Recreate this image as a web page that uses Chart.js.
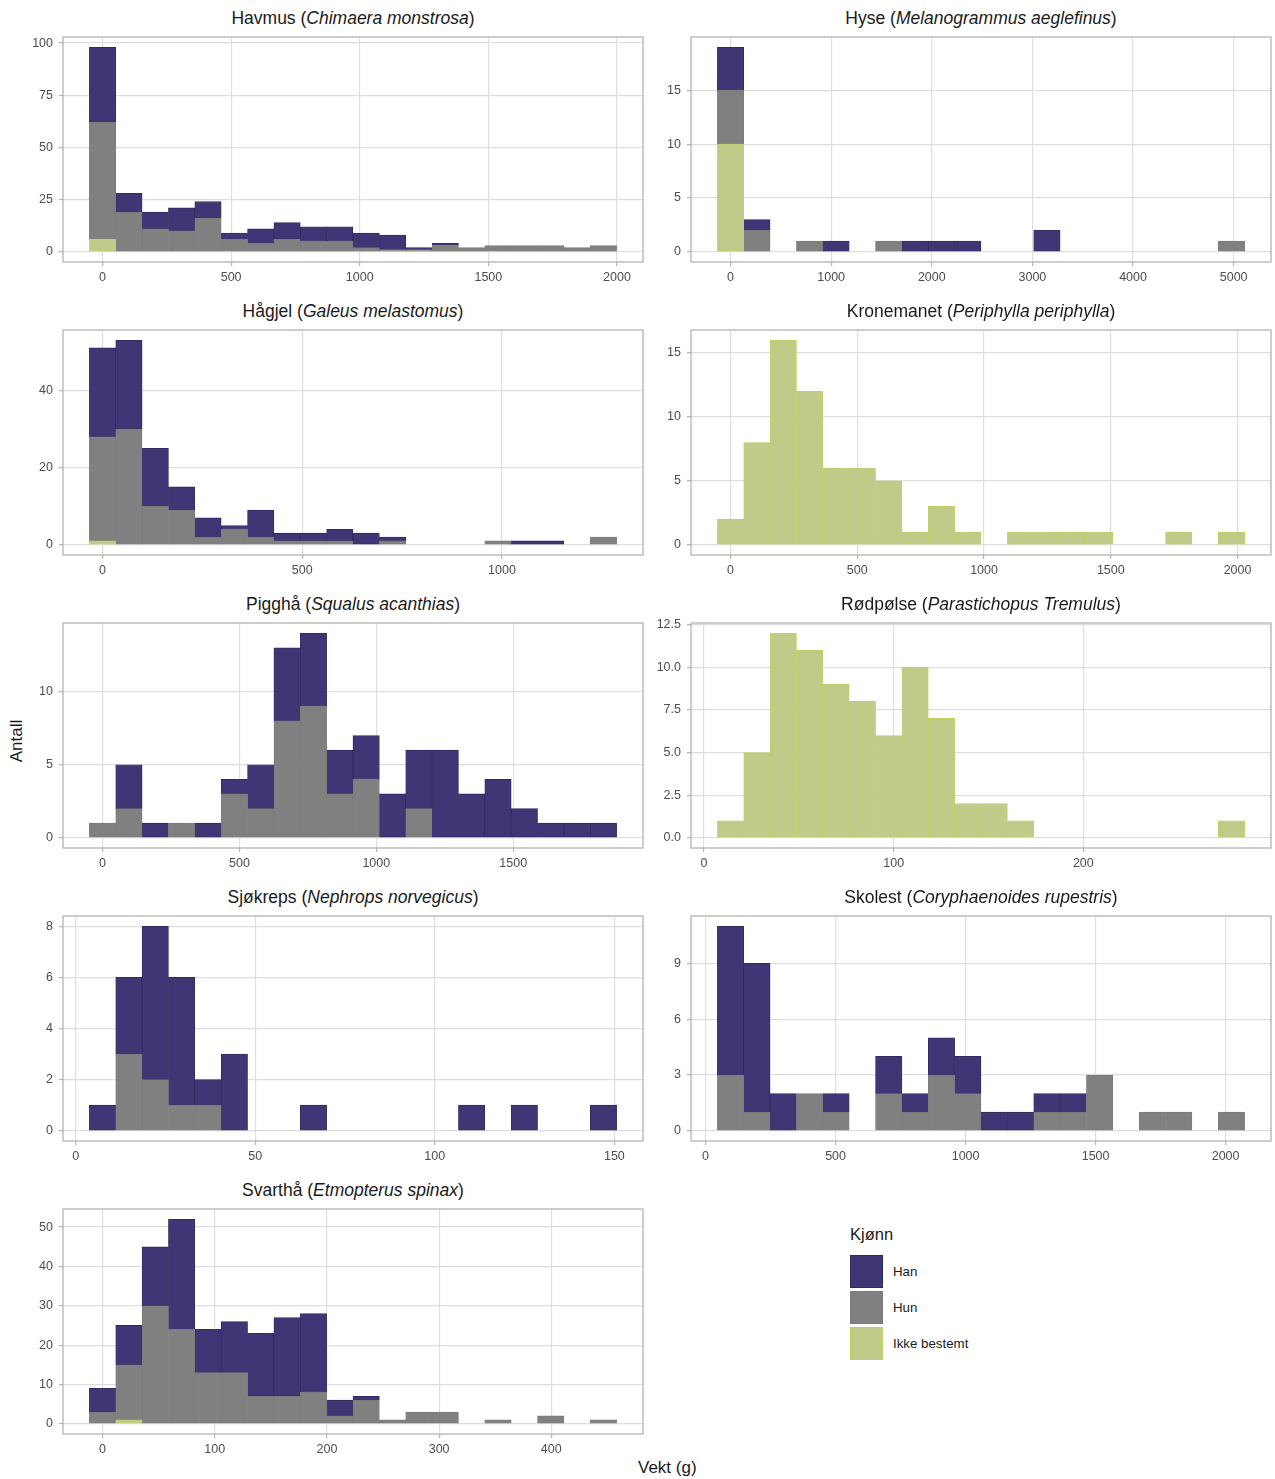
<!DOCTYPE html>
<html>
<head>
<meta charset="utf-8">
<script src="https://cdn.jsdelivr.net/npm/chart.js@4.4.0/dist/chart.umd.min.js"></script>
<style>
  body { margin: 0; background: #fff; font-family: "Liberation Sans", Arial, sans-serif; }
  #wrap { position: relative; width: 1275px; height: 1479px; }
  .title { position: absolute; width: 580px; text-align: center; font-size: 17.5px; line-height: 20px; color: #1a1a1a; }
  .panel { position: absolute; }
  .axis-title { position: absolute; font-size: 17px; color: #1a1a1a; }
  #legend { position: absolute; left: 850px; top: 1225px; }
  #legend .head { font-size: 16.5px; color: #1a1a1a; margin-bottom: 9px; }
  #legend .row { display: flex; align-items: center; height: 36px; }
  #legend .key { width: 31px; height: 31px; border: 1px solid; margin-right: 10px; }
  #legend .lab { font-size: 13.3px; color: #1a1a1a; }
</style>
</head>
<body>
<div id="wrap">
  <div class="axis-title" style="left:-4px;top:731px;transform:rotate(-90deg);">Antall</div>
  <div class="axis-title" style="left:638px;top:1458px;">Vekt (g)</div>
  <div id="legend"></div>
</div>
<script>
// Kjønn categories
const sexLabels = ['Han', 'Hun', 'Ikke bestemt'];
const sexFill = ['#3e3675', '#808080', '#c1cb89'];
const sexLine = ['#302a5c', '#7b7b7b', '#c3cf5a'];

// panels, in facet order
const panelNames = ['Havmus', 'Hyse', 'Hågjel', 'Kronemanet', 'Pigghå', 'Rødpølse', 'Sjøkreps', 'Skolest', 'Svarthå'];
const panelLatin = ['Chimaera monstrosa', 'Melanogrammus aeglefinus', 'Galeus melastomus', 'Periphylla periphylla',
  'Squalus acanthias', 'Parastichopus Tremulus', 'Nephrops norvegicus', 'Coryphaenoides rupestris', 'Etmopterus spinax'];

// histogram bins (20 per panel): centre of first bin and bin width, in g
const binStart = [0, 0, 0, 0, 0, 14, 7.5, 96, 0];
const binWidth = [102.5, 262, 66, 104, 96.3, 13.9, 7.34, 101.4, 23.5];

// tick labels
const xTicks = [
  ['0', '500', '1000', '1500', '2000'],
  ['0', '1000', '2000', '3000', '4000', '5000'],
  ['0', '500', '1000'],
  ['0', '500', '1000', '1500', '2000'],
  ['0', '500', '1000', '1500'],
  ['0', '100', '200'],
  ['0', '50', '100', '150'],
  ['0', '500', '1000', '1500', '2000'],
  ['0', '100', '200', '300', '400']
];
const yTicks = [
  ['0', '25', '50', '75', '100'],
  ['0', '5', '10', '15'],
  ['0', '20', '40'],
  ['0', '5', '10', '15'],
  ['0', '5', '10'],
  ['0.0', '2.5', '5.0', '7.5', '10.0', '12.5'],
  ['0', '2', '4', '6', '8'],
  ['0', '3', '6', '9'],
  ['0', '10', '20', '30', '40', '50']
];

// counts per bin
const havmusHan  = [36, 9, 8, 11, 8, 3, 7, 8, 7, 7, 7, 7, 1, 1, 0, 0, 0, 0, 0, 0];
const havmusHun  = [56, 19, 11, 10, 16, 6, 4, 6, 5, 5, 2, 1, 1, 3, 2, 3, 3, 3, 2, 3];
const havmusIkke = [6, 0, 0, 0, 0, 0, 0, 0, 0, 0, 0, 0, 0, 0, 0, 0, 0, 0, 0, 0];

const hyseHan  = [4, 1, 0, 0, 1, 0, 0, 1, 1, 1, 0, 0, 2, 0, 0, 0, 0, 0, 0, 0];
const hyseHun  = [5, 2, 0, 1, 0, 0, 1, 0, 0, 0, 0, 0, 0, 0, 0, 0, 0, 0, 0, 1];
const hyseIkke = [10, 0, 0, 0, 0, 0, 0, 0, 0, 0, 0, 0, 0, 0, 0, 0, 0, 0, 0, 0];

const hagjelHan  = [23, 23, 15, 6, 5, 1, 7, 2, 2, 3, 3, 1, 0, 0, 0, 0, 1, 1, 0, 0];
const hagjelHun  = [27, 30, 10, 9, 2, 4, 2, 1, 1, 1, 0, 1, 0, 0, 0, 1, 0, 0, 0, 2];
const hagjelIkke = [1, 0, 0, 0, 0, 0, 0, 0, 0, 0, 0, 0, 0, 0, 0, 0, 0, 0, 0, 0];

const kronemanetHan  = [0, 0, 0, 0, 0, 0, 0, 0, 0, 0, 0, 0, 0, 0, 0, 0, 0, 0, 0, 0];
const kronemanetHun  = [0, 0, 0, 0, 0, 0, 0, 0, 0, 0, 0, 0, 0, 0, 0, 0, 0, 0, 0, 0];
const kronemanetIkke = [2, 8, 16, 12, 6, 6, 5, 1, 3, 1, 0, 1, 1, 1, 1, 0, 0, 1, 0, 1];

const pigghaHan  = [0, 3, 1, 0, 1, 1, 3, 5, 5, 3, 3, 3, 4, 6, 3, 4, 2, 1, 1, 1];
const pigghaHun  = [1, 2, 0, 1, 0, 3, 2, 8, 9, 3, 4, 0, 2, 0, 0, 0, 0, 0, 0, 0];
const pigghaIkke = [0, 0, 0, 0, 0, 0, 0, 0, 0, 0, 0, 0, 0, 0, 0, 0, 0, 0, 0, 0];

const rodpolseHan  = [0, 0, 0, 0, 0, 0, 0, 0, 0, 0, 0, 0, 0, 0, 0, 0, 0, 0, 0, 0];
const rodpolseHun  = [0, 0, 0, 0, 0, 0, 0, 0, 0, 0, 0, 0, 0, 0, 0, 0, 0, 0, 0, 0];
const rodpolseIkke = [1, 5, 12, 11, 9, 8, 6, 10, 7, 2, 2, 1, 0, 0, 0, 0, 0, 0, 0, 1];

const sjokrepsHan  = [1, 3, 6, 5, 1, 3, 0, 0, 1, 0, 0, 0, 0, 0, 1, 0, 1, 0, 0, 1];
const sjokrepsHun  = [0, 3, 2, 1, 1, 0, 0, 0, 0, 0, 0, 0, 0, 0, 0, 0, 0, 0, 0, 0];
const sjokrepsIkke = [0, 0, 0, 0, 0, 0, 0, 0, 0, 0, 0, 0, 0, 0, 0, 0, 0, 0, 0, 0];

const skolestHan  = [8, 8, 2, 0, 1, 0, 2, 1, 2, 2, 1, 1, 1, 1, 0, 0, 0, 0, 0, 0];
const skolestHun  = [3, 1, 0, 2, 1, 0, 2, 1, 3, 2, 0, 0, 1, 1, 3, 0, 1, 1, 0, 1];
const skolestIkke = [0, 0, 0, 0, 0, 0, 0, 0, 0, 0, 0, 0, 0, 0, 0, 0, 0, 0, 0, 0];

const svarthaHan  = [6, 10, 15, 28, 11, 13, 16, 20, 20, 4, 1, 0, 0, 0, 0, 0, 0, 0, 0, 0];
const svarthaHun  = [3, 14, 30, 24, 13, 13, 7, 7, 8, 2, 6, 1, 3, 3, 0, 1, 0, 2, 0, 1];
const svarthaIkke = [0, 1, 0, 0, 0, 0, 0, 0, 0, 0, 0, 0, 0, 0, 0, 0, 0, 0, 0, 0];

const counts = [
  [havmusHan, havmusHun, havmusIkke],
  [hyseHan, hyseHun, hyseIkke],
  [hagjelHan, hagjelHun, hagjelIkke],
  [kronemanetHan, kronemanetHun, kronemanetIkke],
  [pigghaHan, pigghaHun, pigghaIkke],
  [rodpolseHan, rodpolseHun, rodpolseIkke],
  [sjokrepsHan, sjokrepsHun, sjokrepsIkke],
  [skolestHan, skolestHun, skolestIkke],
  [svarthaHan, svarthaHun, svarthaIkke]
];

Chart.defaults.font.family = '"Liberation Sans", Arial, sans-serif';
Chart.defaults.color = '#4d4d4d';

// grey panel border like ggplot's theme_light
const panelBox = {
  id: 'panelBox',
  afterDraw(chart) {
    const a = chart.chartArea;
    const ctx = chart.ctx;
    ctx.save();
    ctx.strokeStyle = '#b3b3b3';
    ctx.lineWidth = 1.3;
    ctx.strokeRect(a.left, a.top, a.right - a.left, a.bottom - a.top);
    ctx.restore();
  }
};

const wrap = document.getElementById('wrap');
const boxW = 580, boxH = 225;
const padL = 62, padT = 14, padR = 4, padB = 30;

panelNames.forEach((name, p) => {
  const col = p % 2, row = Math.floor(p / 2);
  const boxLeft = col === 0 ? 63 : 691;
  const boxTop = 37 + row * 293;

  const title = document.createElement('div');
  title.className = 'title';
  title.style.left = boxLeft + 'px';
  title.style.top = (boxTop - 29) + 'px';
  title.innerHTML = name + ' (<i>' + panelLatin[p] + '</i>)';
  wrap.appendChild(title);

  const canvas = document.createElement('canvas');
  canvas.className = 'panel';
  canvas.width = padL + boxW + padR;
  canvas.height = padT + boxH + padB;
  canvas.style.left = (boxLeft - padL) + 'px';
  canvas.style.top = (boxTop - padT) + 'px';
  wrap.appendChild(canvas);

  const start = binStart[p], w = binWidth[p];
  const lo = start - w / 2, hi = start + 19.5 * w;
  const xmin = lo - 0.05 * (hi - lo), xmax = hi + 0.05 * (hi - lo);
  const [han, hun, ikke] = counts[p];
  const totals = han.map((v, i) => v + hun[i] + ikke[i]);
  const top = Math.max(...totals);

  // stacking goes bottom-up: Ikke bestemt, Hun, Han
  const order = [2, 1, 0];
  const datasets = order.map(k => ({
    label: sexLabels[k],
    data: counts[p][k].map((v, i) => ({ x: start + i * w, y: v === 0 ? null : v })),
    backgroundColor: sexFill[k],
    borderColor: sexLine[k],
    borderWidth: 0.8,
    borderSkipped: false,
    categoryPercentage: 1,
    barPercentage: 1
  }));

  new Chart(canvas, {
    type: 'bar',
    data: { datasets },
    options: {
      responsive: false,
      animation: false,
      layout: { padding: { left: 0, top: padT, right: padR, bottom: 0 } },
      plugins: { legend: { display: false }, tooltip: { enabled: false } },
      scales: {
        x: {
          type: 'linear',
          stacked: true,
          offset: false,
          min: xmin,
          max: xmax,
          afterBuildTicks: s => { s.ticks = xTicks[p].map(t => ({ value: Number(t) })); },
          afterFit: s => { s.height = padB; },
          ticks: { callback: (v, i) => xTicks[p][i], font: { size: 12.5 }, color: '#4d4d4d', padding: 4, maxRotation: 0 },
          grid: { offset: false, color: '#dedede', lineWidth: 1.2, tickColor: '#b3b3b3', tickLength: 4 },
          border: { display: false }
        },
        y: {
          stacked: true,
          min: -0.05 * top,
          max: 1.05 * top,
          afterBuildTicks: s => { s.ticks = yTicks[p].map(t => ({ value: Number(t) })); },
          afterFit: s => { s.width = padL; },
          ticks: { callback: (v, i) => yTicks[p][i], font: { size: 12.5 }, color: '#4d4d4d', padding: 6 },
          grid: { color: '#dedede', lineWidth: 1.2, tickColor: '#b3b3b3', tickLength: 4 },
          border: { display: false }
        }
      }
    },
    plugins: [panelBox]
  });
});

// legend
const legend = document.getElementById('legend');
legend.innerHTML = '<div class="head">Kjønn</div>' + sexLabels.map((s, k) =>
  '<div class="row"><div class="key" style="background:' + sexFill[k] + ';border-color:' + sexLine[k] +
  '"></div><div class="lab">' + s + '</div></div>').join('');
</script>
</body>
</html>
